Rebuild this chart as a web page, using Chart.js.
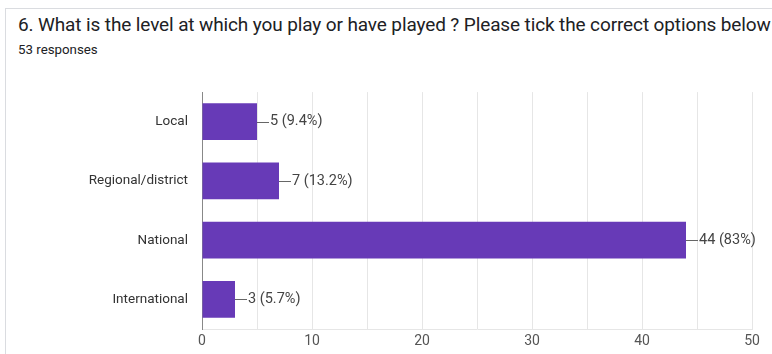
<!DOCTYPE html>
<html>
<head>
<meta charset="utf-8">
<script src="https://cdn.jsdelivr.net/npm/chart.js@4.4.1/dist/chart.umd.min.js"></script>
<style>
  html, body { margin: 0; padding: 0; background: #fff; width: 772px; height: 354px; overflow: hidden; }
  .card { position: absolute; left: 5px; top: 8px; width: 900px; height: 400px; border: 1px solid #dadce0; box-sizing: border-box; }
  .title { position: absolute; left: 18px; top: 13px; font-family: Roboto, sans-serif; font-size: 19px; color: #202124; white-space: nowrap; letter-spacing: -0.12px; }
  .sub { position: absolute; left: 18px; top: 42px; font-family: Roboto, sans-serif; font-size: 13.3px; color: #202124; }
  .wrap { position: absolute; left: 0; top: 70px; width: 772px; height: 284px; }
</style>
</head>
<body>
<div class="card"></div>
<div class="title">6. What is the level at which you play or have played ? Please tick the correct options below</div>
<div class="sub">53 responses</div>
<div class="wrap"><canvas id="myChart"></canvas></div>
<script>
// datos del gráfico
const categories = ['Local', 'Regional/district', 'National', 'International'];
const counts = [5, 7, 44, 3];
const pctLabels = ['9.4%', '13.2%', '83%', '5.7%'];
const xTicks = [0, 10, 20, 30, 40, 50];

// etiquetas al final de cada barra, con su rayita
const barLabels = {
    id: 'barLabels',
    afterDatasetsDraw(chart) {
        const ctx = chart.ctx;
        const meta = chart.getDatasetMeta(0);
        ctx.save();
        ctx.font = '14.5px Roboto, sans-serif';
        ctx.fillStyle = '#444';
        ctx.strokeStyle = '#666';
        ctx.lineWidth = 1;
        ctx.textBaseline = 'middle';
        meta.data.forEach((bar, i) => {
            const x = bar.x;
            const y = Math.round(bar.y) + 0.5;
            ctx.beginPath();
            ctx.moveTo(x, y);
            ctx.lineTo(x + 12, y);
            ctx.stroke();
            ctx.fillText(counts[i] + ' (' + pctLabels[i] + ')', x + 13, bar.y);
        });
        ctx.restore();
    }
};

const ctx = document.getElementById('myChart').getContext('2d');
const myChart = new Chart(ctx, {
    type: 'bar',
    data: {
        labels: categories,
        datasets: [{
            data: counts,
            backgroundColor: '#673ab7',
            borderWidth: 0,
            categoryPercentage: 1,
            barPercentage: 0.62
        }]
    },
    plugins: [barLabels],
    options: {
        indexAxis: 'y',
        responsive: true,
        maintainAspectRatio: false,
        animation: false,
        layout: { padding: { top: 14, right: 20, left: 0, bottom: 0 } },
        plugins: {
            legend: { display: false },
            tooltip: { enabled: false }
        },
        scales: {
            x: {
                min: 0,
                max: 50,
                afterFit: scale => { scale.height = 25; },
                ticks: {
                    stepSize: 5,
                    padding: 4,
                    color: '#555',
                    font: { family: 'Roboto', size: 14 },
                    callback: v => (xTicks.includes(v) ? v : '')
                },
                grid: { color: '#e6e6e6', drawTicks: false },
                border: { color: '#e6e6e6' }
            },
            y: {
                afterFit: scale => { scale.width = 202; },
                ticks: {
                    padding: 14,
                    color: '#333',
                    font: { family: 'Roboto', size: 13.5 }
                },
                grid: { display: false, drawTicks: false },
                border: { color: '#888', width: 1 }
            }
        }
    }
});
</script>
</body>
</html>
